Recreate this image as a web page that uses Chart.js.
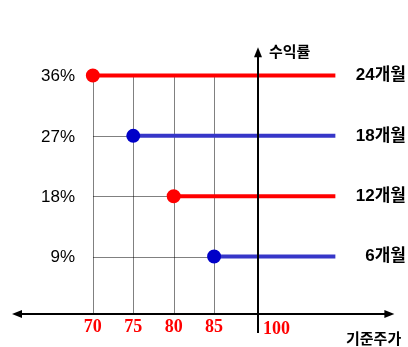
<!DOCTYPE html>
<html>
<head>
<meta charset="utf-8">
<script src="https://cdn.jsdelivr.net/npm/chart.js@4"></script>
<style>
  html, body { margin: 0; padding: 0; background: #fff; }
  #wrap { width: 408px; height: 347px; }
</style>
</head>
<body>
<div id="wrap"><canvas id="chart" width="408" height="347"></canvas></div>
<script>
// series: holding period, strike (기준주가) and return
const periods = ['24개월', '18개월', '12개월', '6개월'];
const strikes = [70, 75, 80, 85];
const returns = [36, 27, 18, 9];
const colors = ['#ff0000', '#3636c8', '#ff0000', '#3636c8'];
const dotColors = ['#ff0000', '#0000c8', '#ff0000', '#0000c8'];
const lineEnd = 100;

// tick labels
const xTickLabels = ['70', '75', '80', '85'];
const yTickLabels = ['36%', '27%', '18%', '9%'];
const originLabel = '100';
const xTitle = '기준주가';
const yTitle = '수익률';

// where the vertical axis sits (drawn as a break, not to scale)
const axisX = 90.4;
const axisY = 0.4;

const datasets = [];

// the return lines with a dot at the strike
strikes.forEach((s, i) => {
    datasets.push({
        data: [{ x: s, y: returns[i] }, { x: lineEnd, y: returns[i] }],
        borderColor: colors[i],
        backgroundColor: dotColors[i],
        pointBackgroundColor: dotColors[i],
        pointBorderColor: dotColors[i],
        borderWidth: 4,
        pointRadius: [5, 0]
    });
});

// dotted guides, snapped to whole pixels so the dots stay crisp
const guides = {
    id: 'guides',
    beforeDatasetsDraw(chart) {
        const ctx = chart.ctx;
        const xs = chart.scales.x;
        const ys = chart.scales.y;
        const snap = v => Math.round(v) + 0.5;
        const top = snap(ys.getPixelForValue(returns[0]));
        const ay = Math.round(ys.getPixelForValue(axisY));
        const x0 = snap(xs.getPixelForValue(strikes[0]));
        ctx.save();
        ctx.strokeStyle = '#000';
        ctx.lineWidth = 1;
        ctx.setLineDash([1, 1]);
        ctx.beginPath();
        strikes.forEach(s => {
            const x = snap(xs.getPixelForValue(s));
            ctx.moveTo(x, top);
            ctx.lineTo(x, ay);
        });
        returns.forEach((r, i) => {
            if (i === 0) return;
            const y = snap(ys.getPixelForValue(r));
            ctx.moveTo(x0, y);
            ctx.lineTo(xs.getPixelForValue(strikes[i]), y);
        });
        ctx.stroke();
        ctx.restore();
    }
};

// axes, arrows and all the text
const decorations = {
    id: 'decorations',
    afterDatasetsDraw(chart) {
        const ctx = chart.ctx;
        const xs = chart.scales.x;
        const ys = chart.scales.y;
        const ax = Math.round(xs.getPixelForValue(axisX));
        const ay = Math.round(ys.getPixelForValue(axisY));
        const left = xs.getPixelForValue(60);
        const right = xs.getPixelForValue(107.3);
        const top = ys.getPixelForValue(40.2);
        const bottom = ys.getPixelForValue(-2.4);

        ctx.save();
        ctx.strokeStyle = '#000';
        ctx.fillStyle = '#000';
        ctx.lineWidth = 2;
        ctx.beginPath();
        ctx.moveTo(left + 4, ay);
        ctx.lineTo(right - 4, ay);
        ctx.moveTo(ax, bottom);
        ctx.lineTo(ax, top + 4);
        ctx.stroke();

        // arrow heads
        ctx.beginPath();
        ctx.moveTo(left, ay);
        ctx.lineTo(left + 10, ay - 4);
        ctx.lineTo(left + 10, ay + 4);
        ctx.closePath();
        ctx.fill();
        ctx.beginPath();
        ctx.moveTo(right, ay);
        ctx.lineTo(right - 10, ay - 4);
        ctx.lineTo(right - 10, ay + 4);
        ctx.closePath();
        ctx.fill();
        ctx.beginPath();
        ctx.moveTo(ax, top);
        ctx.lineTo(ax - 4, top + 10);
        ctx.lineTo(ax + 4, top + 10);
        ctx.closePath();
        ctx.fill();

        // y tick labels
        ctx.font = '17px "Liberation Sans", Arial, sans-serif';
        ctx.textAlign = 'right';
        ctx.textBaseline = 'middle';
        returns.forEach((r, i) => {
            ctx.fillText(yTickLabels[i], 75, ys.getPixelForValue(r) + 1);
        });

        // x tick labels
        ctx.fillStyle = '#ff0000';
        ctx.font = 'bold 18px "Liberation Serif", "Times New Roman", serif';
        ctx.textAlign = 'center';
        strikes.forEach((s, i) => {
            ctx.fillText(xTickLabels[i], xs.getPixelForValue(s), ay + 13);
        });
        ctx.textAlign = 'left';
        ctx.fillText(originLabel, ax + 5, ay + 15);

        // series labels
        ctx.fillStyle = '#000';
        ctx.font = 'bold 17px "Liberation Sans", "Noto Sans CJK KR", sans-serif';
        ctx.textAlign = 'right';
        returns.forEach((r, i) => {
            ctx.fillText(periods[i], 406, ys.getPixelForValue(r));
        });

        // axis titles
        ctx.font = 'bold 15px "Noto Sans CJK KR", sans-serif';
        ctx.textAlign = 'left';
        ctx.fillText(yTitle, ax + 11, top + 4);
        ctx.fillText(xTitle, 346, ay + 24);
        ctx.restore();
    }
};

new Chart(document.getElementById('chart'), {
    type: 'line',
    data: { datasets: datasets },
    options: {
        responsive: false,
        animation: false,
        layout: { padding: { left: 12, right: 12, top: 42, bottom: 10 } },
        plugins: { legend: { display: false }, tooltip: { enabled: false } },
        scales: {
            x: { type: 'linear', min: 60, max: 107.5, display: false },
            y: { type: 'linear', min: -3, max: 41, display: false }
        }
    },
    plugins: [guides, decorations]
});
</script>
</body>
</html>
